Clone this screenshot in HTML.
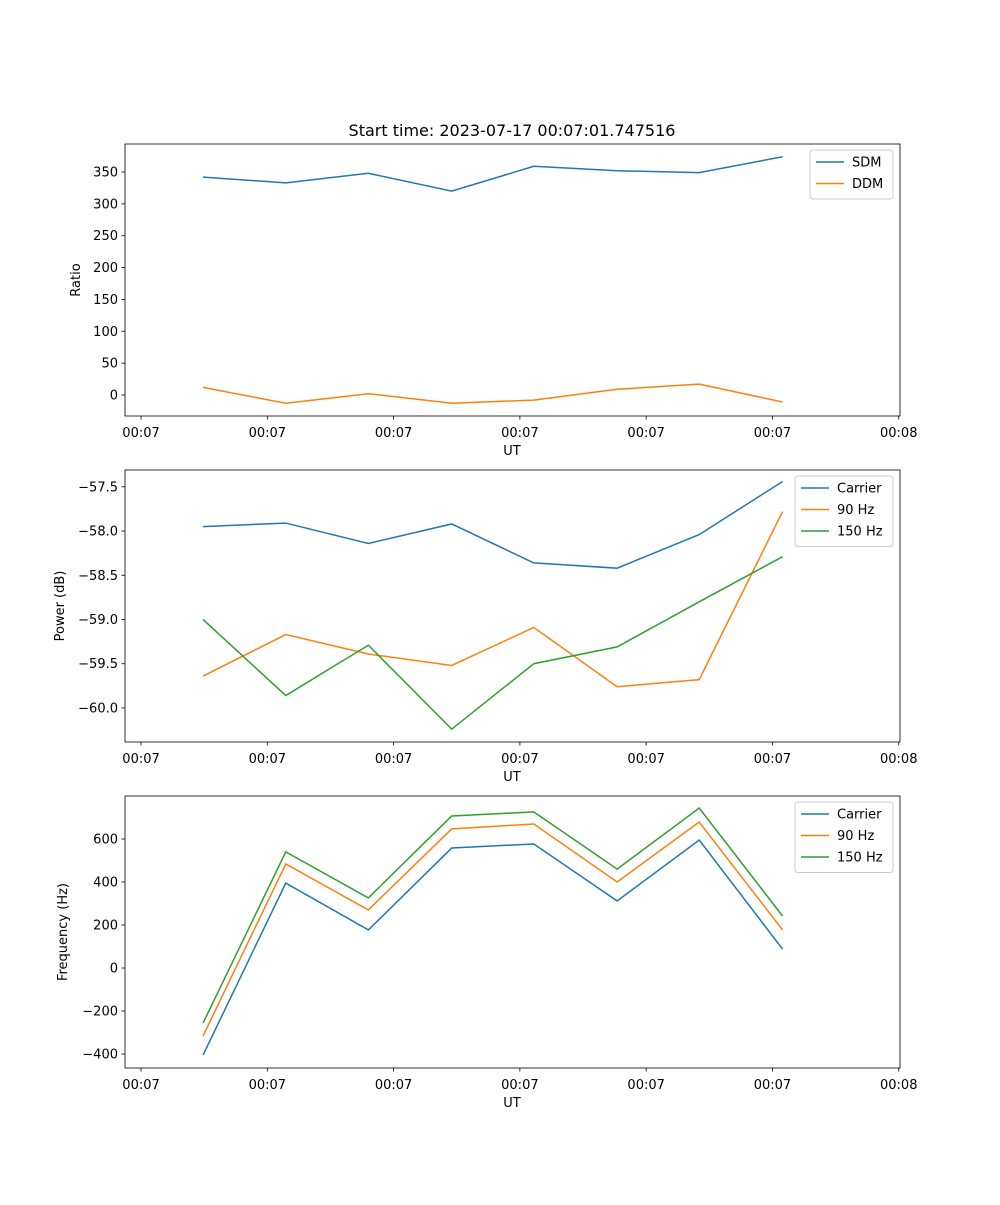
<!DOCTYPE html>
<html><head><meta charset="utf-8"><style>
body{margin:0;background:#fff;font-family:"Liberation Sans","DejaVu Sans",sans-serif;}
svg text{font-family:"DejaVu Sans","Liberation Sans",sans-serif;}
</style></head><body>
<svg id="fig" width="1000" height="1200" xmlns="http://www.w3.org/2000/svg">
<rect width="1000" height="1200" fill="#fff"/>
<text x="512" y="136" font-size="16" text-anchor="middle">Start time: 2023-07-17 00:07:01.747516</text>
</svg>
<script>
const times=[4.91,11.46,18.0,24.6,31.1,37.7,44.2,50.8];
const xTicks=[0,10,20,30,40,50,60];
const xTickLabels=["00:07","00:07","00:07","00:07","00:07","00:07","00:08"];
const sdm=[342,333,348,320,359,352,349,374];
const ddm=[12,-13,2,-13,-8,9,17,-11];
const powCarrier=[-57.95,-57.91,-58.14,-57.92,-58.36,-58.42,-58.04,-57.44];
const pow90=[-59.64,-59.17,-59.39,-59.52,-59.09,-59.76,-59.68,-57.78];
const pow150=[-59.0,-59.86,-59.29,-60.24,-59.5,-59.31,-58.8,-58.29];
const freqCarrier=[-405,395,177,558,577,312,595,88];
const freq90=[-316,484,270,647,670,400,679,177];
const freq150=[-256,540,326,707,726,460,744,242];
const ratioTicks=[0,50,100,150,200,250,300,350];
const powTicks=[-60.0,-59.5,-59.0,-58.5,-58.0,-57.5];
const freqTicks=[-400,-200,0,200,400,600];

const NS="http://www.w3.org/2000/svg";
const svg=document.getElementById('fig');
const L=125,R=900,xmin=-1.27,xmax=60.1;
const C=['#1f77b4','#ff7f0e','#2ca02c'];
function el(t,a,p){const e=document.createElementNS(NS,t);for(const k in a)e.setAttribute(k,a[k]);(p||svg).appendChild(e);return e;}
function xs(v){return L+(v-xmin)/(xmax-xmin)*(R-L);}
function panel(name,top,bot,ymin,ymax,yticks,fmt,ylabel,series,names,leg){
  const g=el('g',{});
  
  
  const ys=v=>bot-(v-ymin)/(ymax-ymin)*(bot-top);
  series.forEach((s,i)=>{
    const p=el('polyline',{points:s.map((v,j)=>xs(times[j])+','+ys(v)).join(' '),fill:'none',stroke:C[i],'stroke-width':1.5},g);
    
    
  });
  el('rect',{x:L,y:top,width:R-L,height:bot-top,fill:'none',stroke:'#000','stroke-width':0.8},g);
  xTicks.forEach((t,i)=>{const x=xs(t);
    el('line',{x1:x,x2:x,y1:bot,y2:bot+3.5,stroke:'#000','stroke-width':0.8},g);
    const tx=el('text',{x:x,y:bot+21,'font-size':13,'text-anchor':'middle'},g);tx.textContent=xTickLabels[i];
    
    
  });
  yticks.forEach(t=>{const y=ys(t);
    el('line',{x1:L-3.5,x2:L,y1:y,y2:y,stroke:'#000','stroke-width':0.8},g);
    const tx=el('text',{x:L-7,y:y+4.5,'font-size':13,'text-anchor':'end'},g);tx.textContent=fmt(t);
    
    
  });
  const xl=el('text',{x:512,y:bot+39,'font-size':13,'text-anchor':'middle'},g);xl.textContent='UT';
  
  
  const cy=(top+bot)/2;
  const yl=el('text',{x:leg.yl,y:cy,'font-size':13,'text-anchor':'middle',transform:'rotate(-90 '+leg.yl+' '+cy+')'},g);yl.textContent=ylabel;
  
  
  const lg=el('g',{},g);
  
  
  el('rect',{x:leg.x,y:top+6,width:893-leg.x,height:names.length*21.5+6,rx:3,fill:'#fff','fill-opacity':0.8,stroke:'#ccc'},lg);
  names.forEach((n,i)=>{const yy=top+18+i*21.5;
    el('line',{x1:leg.x+6,x2:leg.x+34,y1:yy,y2:yy,stroke:C[i],'stroke-width':1.5},lg);
    const t=el('text',{x:leg.x+42,y:yy+4.5,'font-size':13},lg);t.textContent=n;
    
    
  });
}
panel('ratio',144,416,-33,394,ratioTicks,v=>String(v),'Ratio',[sdm,ddm],['SDM','DDM'],{x:810,yl:80});
panel('power',470,742,-60.385,-57.31,powTicks,v=>v.toFixed(1).replace('-','\u2212'),'Power (dB)',[powCarrier,pow90,pow150],['Carrier','90 Hz','150 Hz'],{x:795,yl:64});
panel('frequency',796,1068,-465,800,freqTicks,v=>String(v).replace('-','\u2212'),'Frequency (Hz)',[freqCarrier,freq90,freq150],['Carrier','90 Hz','150 Hz'],{x:795,yl:67});
</script>
</body></html>
